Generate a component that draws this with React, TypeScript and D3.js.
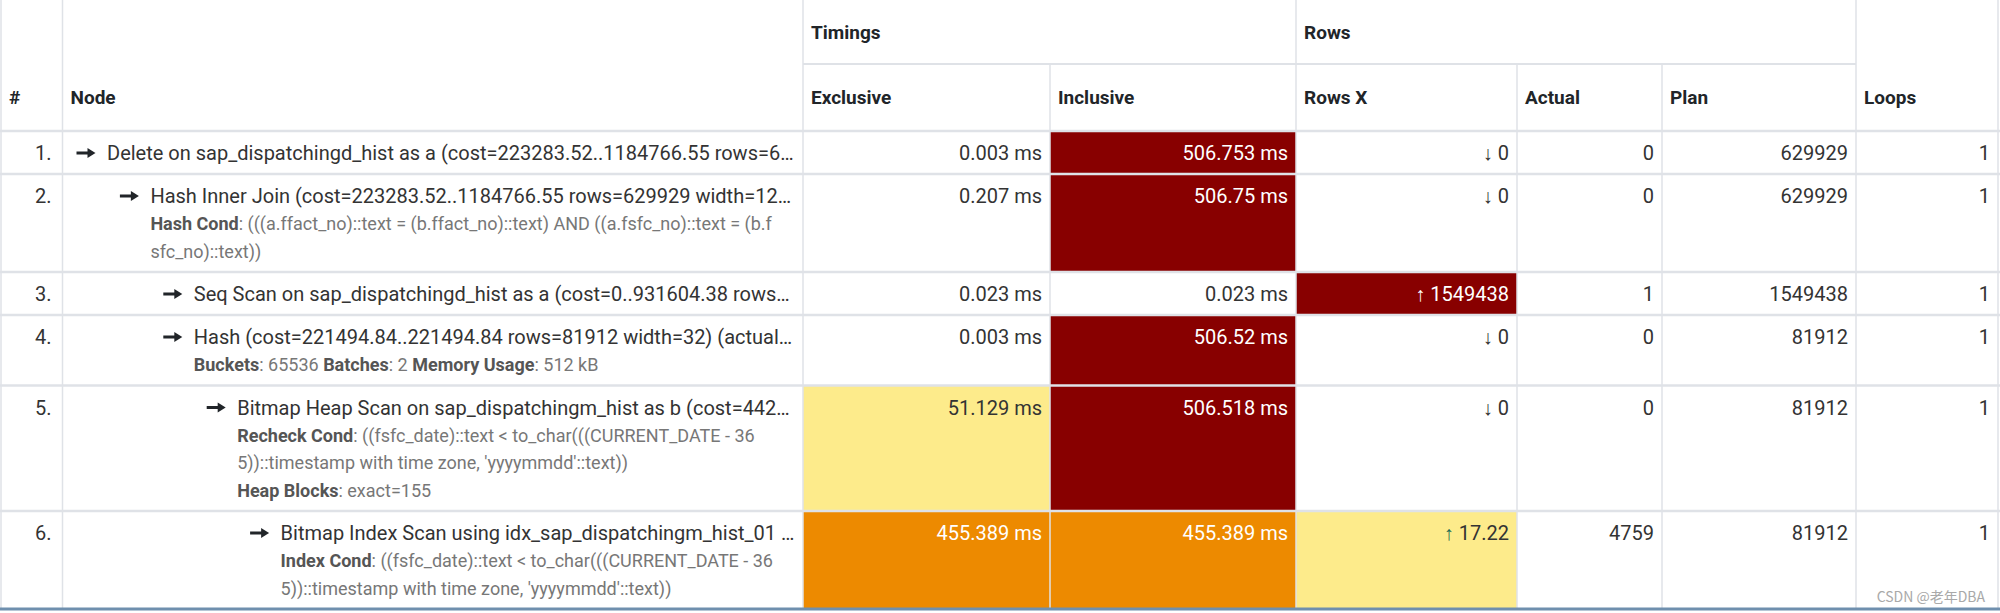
import React, { useEffect, useRef } from "react";
import * as d3 from "d3";

// plan nodes, top to bottom
const nodeNames = [
  "Delete on sap_dispatchingd_hist as a (cost=223283.52..1184766.55 rows=6…",
  "Hash Inner Join (cost=223283.52..1184766.55 rows=629929 width=12…",
  "Seq Scan on sap_dispatchingd_hist as a (cost=0..931604.38 rows…",
  "Hash (cost=221494.84..221494.84 rows=81912 width=32) (actual…",
  "Bitmap Heap Scan on sap_dispatchingm_hist as b (cost=442…",
  "Bitmap Index Scan using idx_sap_dispatchingm_hist_01 …",
];
const nodeDepth = [0, 1, 2, 2, 3, 4];

// extra lines under each node: [bold label, plain text] pairs
const nodeDetails: [string, string][][][] = [
  [],
  [
    [["Hash Cond", ": (((a.ffact_no)::text = (b.ffact_no)::text) AND ((a.fsfc_no)::text = (b.f"]],
    [["", "sfc_no)::text))"]],
  ],
  [],
  [
    [
      ["Buckets", ": 65536 "],
      ["Batches", ": 2 "],
      ["Memory Usage", ": 512 kB"],
    ],
  ],
  [
    [["Recheck Cond", ": ((fsfc_date)::text < to_char(((CURRENT_DATE - 36"]],
    [["", "5))::timestamp with time zone, 'yyyymmdd'::text))"]],
    [["Heap Blocks", ": exact=155"]],
  ],
  [
    [["Index Cond", ": ((fsfc_date)::text < to_char(((CURRENT_DATE - 36"]],
    [["", "5))::timestamp with time zone, 'yyyymmdd'::text))"]],
  ],
];

const exclusiveMs = [0.003, 0.207, 0.023, 0.003, 51.129, 455.389];
const inclusiveMs = [506.753, 506.75, 0.023, 506.52, 506.518, 455.389];
const rowsFactor = [0, 0, 1549438, 0, 0, 17.22];
const rowsDir = ["↓", "↓", "↑", "↓", "↓", "↑"];
const rowsActual = [0, 0, 1, 0, 0, 4759];
const rowsPlan = [629929, 629929, 1549438, 81912, 81912, 81912];
const loops = [1, 1, 1, 1, 1, 1];
const totalMs = 506.753;

const groupHeaders = ["Timings", "Rows"];
const colHeaders = ["#", "Node", "Exclusive", "Inclusive", "Rows X", "Actual", "Plan", "Loops"];

const W = 2000,
  H = 613;
const FONT = "Roboto, 'Noto Sans', sans-serif";

export default function App() {
  const ref = useRef<SVGSVGElement>(null);

  useEffect(() => {
    document.body.style.margin = "0";
    const svg = d3.select(ref.current);
    svg.selectAll("*").remove();

    // column edges
    const colX = [1, 62.5, 803, 1050, 1296, 1517, 1662, 1856, 1998];
    const groupBottom = 64,
      headBottom = 131;

    // row tops from number of detail lines
    const heights = nodeDetails.map((d) => 43 + 27.5 * d.length);
    const tops = [headBottom, ...d3.cumsum(heights).map((h) => headBottom + h)];
    const tableBottom = tops[tops.length - 1];

    const heat = d3
      .scaleThreshold<number, string>()
      .domain([10, 50, 90])
      .range(["none", "#fdeb8b", "#ed8a00", "#880000"]);
    const rowsHeat = d3
      .scaleThreshold<number, string>()
      .domain([10, 100, 1000])
      .range(["none", "#fdeb8b", "#ed8a00", "#880000"]);
    const inkOn = (fill: string) =>
      fill === "#880000" || fill === "#ed8a00" ? "#ffffff" : "#333333";

    svg.append("rect").attr("width", W).attr("height", H).attr("fill", "#ffffff");

    // clip for node column
    svg
      .append("defs")
      .append("clipPath")
      .attr("id", "nodeClip")
      .append("rect")
      .attr("x", colX[1])
      .attr("y", 0)
      .attr("width", colX[2] - colX[1] - 6)
      .attr("height", H);

    const cells = svg.append("g");
    const grid = svg.append("g");
    const texts = svg.append("g").attr("font-family", FONT);

    // header
    const head = texts.append("g").attr("font-weight", 700).attr("font-size", 19).attr("fill", "#212529");
    groupHeaders.forEach((g, i) => {
      head
        .append("text")
        .attr("x", colX[2 + i * 2] + 8)
        .attr("y", groupBottom / 2)
        .attr("dy", "0.35em")
        .text(g);
    });
    colHeaders.forEach((c, i) => {
      head
        .append("text")
        .attr("x", colX[i] + 8)
        .attr("y", (groupBottom + headBottom) / 2)
        .attr("dy", "0.35em")
        .text(c);
    });

    const cellText = (i: number, col: number, str: string, fill: string, arrow?: string, arrowFill?: string) => {
      const y = tops[i] + 22;
      const t = texts
        .append("text")
        .attr("x", colX[col + 1] - 8)
        .attr("y", y)
        .attr("dy", "0.35em")
        .attr("text-anchor", "end")
        .attr("font-size", 20)
        .attr("fill", fill);
      if (arrow) t.append("tspan").attr("fill", arrowFill || fill).text(arrow + " ");
      t.append("tspan").text(str);
    };

    const fillCell = (i: number, col: number, fill: string) => {
      if (fill === "none") return;
      cells
        .append("rect")
        .attr("x", colX[col])
        .attr("y", tops[i])
        .attr("width", colX[col + 1] - colX[col])
        .attr("height", heights[i])
        .attr("fill", fill);
    };

    nodeNames.forEach((name, i) => {
      const top = tops[i];
      const cy = top + 22;

      // number
      texts
        .append("text")
        .attr("x", colX[1] - 11)
        .attr("y", cy)
        .attr("dy", "0.35em")
        .attr("text-anchor", "end")
        .attr("font-size", 20)
        .attr("fill", "#333333")
        .text(`${i + 1}.`);

      // node arrow + name
      const ax = 76.5 + nodeDepth[i] * 43.4;
      const ng = texts.append("g").attr("clip-path", "url(#nodeClip)");
      ng.append("path")
        .attr("d", `M${ax},${cy} H${ax + 13}`)
        .attr("stroke", "#212529")
        .attr("stroke-width", 3);
      ng.append("path")
        .attr("d", `M${ax + 11},${cy - 5} L${ax + 19},${cy} L${ax + 11},${cy + 5} Z`)
        .attr("fill", "#212529");
      const tx = ax + 30.5;
      ng.append("text")
        .attr("x", tx)
        .attr("y", cy)
        .attr("dy", "0.35em")
        .attr("font-size", 20)
        .attr("fill", "#333333")
        .text(name);

      nodeDetails[i].forEach((line, k) => {
        const t = ng
          .append("text")
          .attr("x", tx)
          .attr("y", top + 50 + 27.5 * k)
          .attr("dy", "0.35em")
          .attr("font-size", 18)
          .attr("fill", "#777777");
        line.forEach(([label, rest]) => {
          if (label) t.append("tspan").attr("font-weight", 700).attr("fill", "#555555").text(label);
          t.append("tspan").text(rest);
        });
      });

      // timings
      const ex = heat((exclusiveMs[i] / totalMs) * 100);
      const inc = heat((inclusiveMs[i] / totalMs) * 100);
      fillCell(i, 2, ex);
      fillCell(i, 3, inc);
      cellText(i, 2, `${exclusiveMs[i]} ms`, inkOn(ex));
      cellText(i, 3, `${inclusiveMs[i]} ms`, inkOn(inc));

      // rows
      const rx = rowsHeat(rowsFactor[i]);
      fillCell(i, 4, rx);
      cellText(i, 4, `${rowsFactor[i]}`, inkOn(rx), rowsDir[i], rx === "#fdeb8b" ? "#1f6b55" : undefined);
      cellText(i, 5, `${rowsActual[i]}`, "#333333");
      cellText(i, 6, `${rowsPlan[i]}`, "#333333");
      cellText(i, 7, `${loops[i]}`, "#333333");
    });

    // grid lines
    const line = "#dfe2e7";
    grid
      .append("line")
      .attr("x1", colX[2])
      .attr("x2", colX[7])
      .attr("y1", groupBottom)
      .attr("y2", groupBottom)
      .attr("stroke", line)
      .attr("stroke-width", 2);
    tops.slice(0, -1).forEach((y) => {
      grid
        .append("line")
        .attr("x1", 0)
        .attr("x2", W)
        .attr("y1", y)
        .attr("y2", y)
        .attr("stroke", line)
        .attr("stroke-width", 2.5);
    });
    colX.forEach((x, i) => {
      const partial = i === 3 || i === 5 || i === 6;
      grid
        .append("line")
        .attr("x1", x)
        .attr("x2", x)
        .attr("y1", partial ? groupBottom : 0)
        .attr("y2", tableBottom)
        .attr("stroke", line)
        .attr("stroke-width", 1.5);
    });
    grid
      .append("rect")
      .attr("x", 0)
      .attr("y", tableBottom - 1.5)
      .attr("width", W)
      .attr("height", 3)
      .attr("fill", "#6f8fae");

    // watermark
    svg
      .append("text")
      .attr("x", 1985)
      .attr("y", 597)
      .attr("dy", "0.35em")
      .attr("text-anchor", "end")
      .attr("font-family", "'Noto Sans CJK SC', 'Noto Sans', sans-serif")
      .attr("font-size", 14)
      .attr("fill", "#a9a9a9")
      .text("CSDN @老年DBA");
  }, []);

  return <svg ref={ref} width={W} height={H} style={{ display: "block" }} />;
}
